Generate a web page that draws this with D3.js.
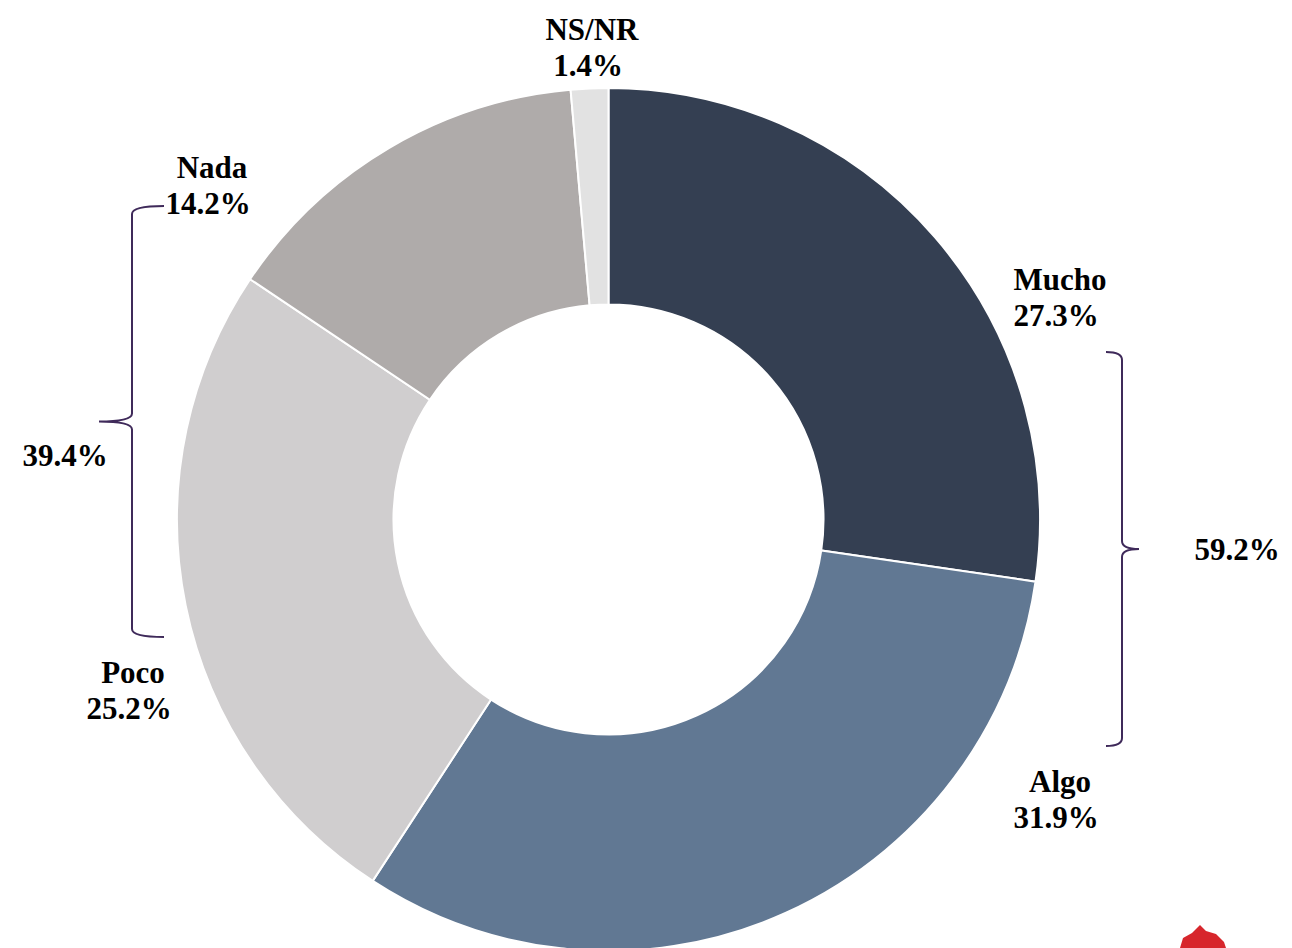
<!DOCTYPE html>
<html>
<head>
<meta charset="utf-8">
<script src="https://cdn.jsdelivr.net/npm/d3@7"></script>
<style>
  body { margin: 0; background: #fff; }
  text { font-family: "Liberation Serif", "Times New Roman", serif; font-weight: bold; fill: #000; }
</style>
</head>
<body>
<div id="chart"></div>
<script>
const categories = ["Mucho", "Algo", "Poco", "Nada", "NS/NR"];
const values = [27.3, 31.9, 25.2, 14.2, 1.4];
const colors = ["#343f52", "#617893", "#d0cecf", "#afabaa", "#e2e2e2"];
// label anchor positions (centre x, first baseline y)
const labelPos = [[1060, 290], [1060, 792], [133, 683], [212, 178], [592, 40]];
const groupTotals = ["59.2%", "39.4%"];

const width = 1292, height = 948;
const cx = 608.5, cy = 519.5, outerR = 431.5, innerR = 215;
const fontSize = 31;

const svg = d3.select("#chart").append("svg")
    .attr("width", width)
    .attr("height", height);

const pie = d3.pie().sort(null).value(d => d);
const arc = d3.arc().innerRadius(innerR).outerRadius(outerR);

svg.append("g")
    .attr("transform", "translate(" + cx + "," + cy + ")")
    .selectAll("path")
    .data(pie(values))
    .enter().append("path")
    .attr("d", arc)
    .attr("fill", (d, i) => colors[i])
    .attr("stroke", "#fff")
    .attr("stroke-width", 2);

// labels
const labels = svg.append("g").attr("class", "labels");
categories.forEach(function (c, i) {
    const t = labels.append("text")
        .attr("text-anchor", "middle")
        .attr("font-size", fontSize);
    t.append("tspan").attr("x", labelPos[i][0]).attr("y", labelPos[i][1]).text(c);
    t.append("tspan").attr("x", labelPos[i][0] - 4).attr("y", labelPos[i][1] + 36)
        .text(values[i].toFixed(1) + "%");
});

// braces
function brace(x, y0, y1, w, t) {
    const ym = (y0 + y1) / 2;
    const xv = x + w;
    return "M" + x + "," + y0 +
        "Q" + xv + "," + y0 + " " + xv + "," + (y0 + 8) +
        "L" + xv + "," + (ym - 8) +
        "Q" + xv + "," + ym + " " + (xv + t) + "," + ym +
        "Q" + xv + "," + ym + " " + xv + "," + (ym + 8) +
        "L" + xv + "," + (y1 - 8) +
        "Q" + xv + "," + y1 + " " + x + "," + y1;
}

svg.append("path")
    .attr("d", brace(1106, 352, 746, 16, 17))
    .attr("fill", "none")
    .attr("stroke", "#3f2a5a")
    .attr("stroke-width", 2);

svg.append("path")
    .attr("d", brace(164, 206, 637, -32, -33))
    .attr("fill", "none")
    .attr("stroke", "#3f2a5a")
    .attr("stroke-width", 2);

svg.append("text")
    .attr("x", 1237).attr("y", 560)
    .attr("text-anchor", "middle")
    .attr("font-size", fontSize)
    .text(groupTotals[0]);

svg.append("text")
    .attr("x", 65).attr("y", 466)
    .attr("text-anchor", "middle")
    .attr("font-size", fontSize)
    .text(groupTotals[1]);

// partial logo at bottom right
svg.append("path")
    .attr("d", "M1180,948 L1183,938 L1192,933 L1200,925 L1206,931 L1216,934 L1224,942 L1226,948 Z")
    .attr("fill", "#d7262c");
</script>
</body>
</html>
